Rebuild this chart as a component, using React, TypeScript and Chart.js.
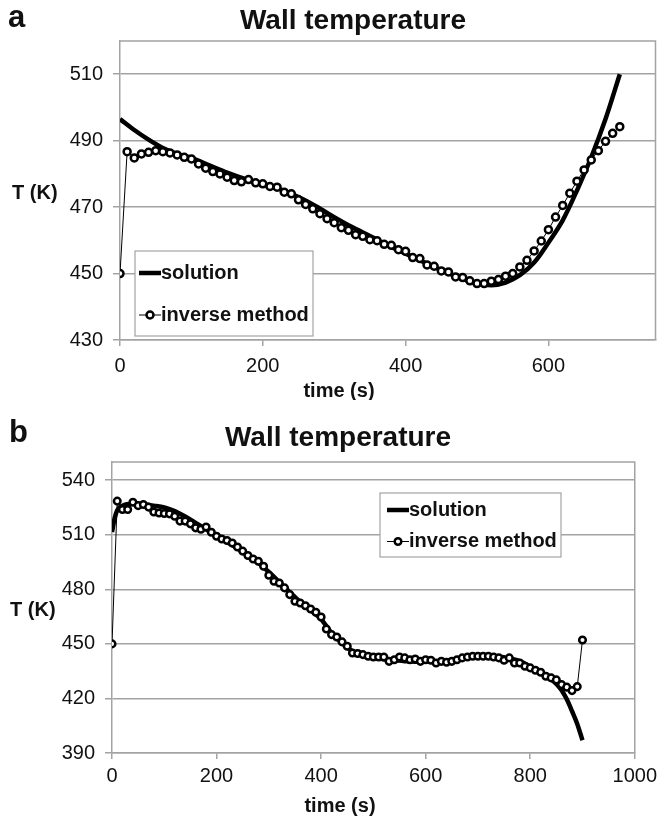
import React, { useEffect, useRef } from "react";
import { Chart, registerables } from "chart.js";

Chart.register(...registerables);

// ---------- Panel a ----------
const A_TIME = [
  0, 10, 20, 30, 40, 50, 60, 70, 80, 90, 100, 110, 120, 130, 140, 150, 160, 170, 180, 190,
  200, 210, 220, 230, 240, 250, 260, 270, 280, 290, 300, 310, 320, 330, 340, 350, 360, 370, 380, 390,
  400, 410, 420, 430, 440, 450, 460, 470, 480, 490, 500, 510, 520, 530, 540, 550, 560, 570, 580, 590,
  600, 610, 620, 630, 640, 650, 660, 670, 680, 690, 700,
];
const A_INVERSE = [
  450, 486.7, 484.8, 486, 486.5, 487, 486.7, 486.3, 485.7, 485, 484.5, 483, 481.7, 480.7, 480, 479, 478, 477.6, 478.3, 477.3,
  477, 476.2, 476, 474.5, 474, 472.2, 470.8, 469.5, 468, 466.5, 465.3, 463.8, 463, 461.7, 461.2, 460.2, 459.9, 458.8, 458.5, 457.2,
  456.7, 454.8, 454.5, 452.6, 452.2, 450.8, 450.5, 449, 448.8, 447.8, 447, 447, 447.7, 448.2, 449.2, 450, 452, 454, 456.8, 459.8,
  463.2, 467, 470.5, 474.2, 477.8, 481.2, 484.2, 487, 489.8, 492.2, 494.2,
];
const A_SOL_TIME = [
  0, 20, 40, 60, 80, 100, 125, 150, 175, 200, 225, 250, 275, 300, 325, 350, 375, 400, 425, 450,
  475, 500, 520, 540, 560, 580, 600, 620, 640, 660, 680, 700,
];
const A_SOLUTION = [
  496.5, 493.2, 490.3, 487.8, 486, 484.8, 482.6, 480.4, 478.5, 477, 475.3, 473, 470.2, 467, 464, 461.3, 458.5, 456, 453.5, 451,
  448.8, 447, 446.5, 447.3, 449.5, 453.3, 459.3, 466, 475, 485, 496.5, 510,
];
const A_X_TICKS = [0, 200, 400, 600];
const A_Y_TICKS = [430, 450, 470, 490, 510];

// ---------- Panel b ----------
const B_TIME = [
  0, 10, 20, 30, 40, 50, 60, 70, 80, 90, 100, 110, 120, 130, 140, 150, 160, 170, 180, 190,
  200, 210, 220, 230, 240, 250, 260, 270, 280, 290, 300, 310, 320, 330, 340, 350, 360, 370, 380, 390,
  400, 410, 420, 430, 440, 450, 460, 470, 480, 490, 500, 510, 520, 530, 540, 550, 560, 570, 580, 590,
  600, 610, 620, 630, 640, 650, 660, 670, 680, 690, 700, 710, 720, 730, 740, 750, 760, 770, 780, 790,
  800, 810, 820, 830, 840, 850, 860, 870, 880, 890, 900,
];
const B_INVERSE = [
  450, 528.5, 523.9, 523.9, 527.9, 526, 526.6, 525.2, 522.5, 522, 521.7, 521.5, 520.2, 517.5, 517.5, 516, 513.8, 513, 514.3, 511.4,
  509.2, 507.7, 506.8, 505.5, 503.3, 501, 498.6, 496.7, 495.4, 492.7, 487.7, 484.4, 483.5, 480.8, 477.1, 473.4, 472.5, 471, 469.2, 467.4,
  464.8, 458.2, 455.1, 453.8, 451.1, 448.7, 445, 444.7, 444.1, 443.2, 442.8, 442.8, 442.8, 440.4, 441.3, 442.8, 442.3, 441.3, 441.7, 440.4,
  441.3, 441, 439.5, 440.4, 439.9, 440.4, 441.3, 442.3, 442.8, 443.2, 443.2, 443.2, 443.2, 442.8, 442.3, 441, 442.3, 439.5, 439.5, 437.7,
  436.8, 435.5, 434.4, 432.2, 431.3, 430.2, 427.6, 426.2, 424.3, 426.5, 452.1,
];
const B_SOL_TIME = [
  0, 5, 10, 20, 40, 60, 80, 100, 120, 140, 160, 180, 200, 220, 240, 260, 280, 300, 320, 340,
  360, 380, 400, 420, 440, 460, 480, 500, 520, 540, 560, 580, 600, 620, 640, 660, 680, 700, 720, 740,
  760, 780, 800, 820, 840, 850, 860, 870, 880, 890, 900,
];
const B_SOLUTION = [
  511.5, 519, 523.5, 526, 527, 526.8, 526, 525, 523, 520, 516.5, 513, 509.5, 506, 502.5, 498.5, 494.5, 489.5, 484, 478.5,
  473, 468.5, 463.5, 456, 450.5, 446, 443.5, 442.3, 441.5, 441, 440.5, 440.2, 440.2, 440.3, 440.8, 441.5, 442.3, 443, 443.3, 443,
  442, 440.5, 437.5, 434, 430.5, 428, 424.5, 419.5, 413, 406, 397,
];
const B_X_TICKS = [0, 200, 400, 600, 800, 1000];
const B_Y_TICKS = [390, 420, 450, 480, 510, 540];

const TITLE = "Wall temperature";
const X_TITLE = "time (s)";
const Y_TITLE = "T (K)";
const SERIES_SOLUTION = "solution";
const SERIES_INVERSE = "inverse method";

const FONT = '"Liberation Sans", Arial, Helvetica, sans-serif';
const GRID = "#a3a3a3";
const INK = "#111111";

const zip = (xs: number[], ys: number[]) => xs.map((x, i) => ({ x, y: ys[i] }));

type Decor = {
  letter: string;
  letterX: number;
  letterY: number;
  titleX: number;
  titleY: number;
  yTitleX: number;
  yTitleY: number;
  xTitleX: number;
  xTitleY: number;
  legend: { x: number; y: number; w: number; h: number; row1: number; row2: number; lx0: number; lx1: number; tx: number };
  markerR: number;
};

function decorPlugin(d: Decor) {
  return {
    id: "decor",
    beforeDatasetsDraw(chart: any) {
      const { ctx, chartArea: ca } = chart;
      ctx.save();
      ctx.strokeStyle = GRID;
      ctx.lineWidth = 1.5;
      ctx.beginPath();
      ctx.moveTo(ca.left, ca.top);
      ctx.lineTo(ca.right, ca.top);
      ctx.lineTo(ca.right, ca.bottom);
      ctx.stroke();
      ctx.restore();
    },
    afterDraw(chart: any) {
      const ctx = chart.ctx as CanvasRenderingContext2D;
      ctx.save();
      ctx.fillStyle = INK;
      ctx.textBaseline = "middle";
      ctx.font = `bold 31px ${FONT}`;
      ctx.textAlign = "left";
      ctx.fillText(d.letter, d.letterX, d.letterY);
      ctx.font = `bold 28px ${FONT}`;
      ctx.textAlign = "center";
      ctx.fillText(TITLE, d.titleX, d.titleY);
      ctx.font = `bold 20px ${FONT}`;
      ctx.textAlign = "left";
      ctx.fillText(Y_TITLE, d.yTitleX, d.yTitleY);
      ctx.textAlign = "center";
      ctx.fillText(X_TITLE, d.xTitleX, d.xTitleY);
      const L = d.legend;
      ctx.fillStyle = "#ffffff";
      ctx.fillRect(L.x, L.y, L.w, L.h);
      ctx.strokeStyle = GRID;
      ctx.lineWidth = 1.2;
      ctx.strokeRect(L.x, L.y, L.w, L.h);
      ctx.strokeStyle = "#000";
      ctx.lineWidth = 4.5;
      ctx.beginPath();
      ctx.moveTo(L.lx0, L.row1);
      ctx.lineTo(L.lx1, L.row1);
      ctx.stroke();
      ctx.lineWidth = 1;
      ctx.beginPath();
      ctx.moveTo(L.lx0, L.row2);
      ctx.lineTo(L.lx1, L.row2);
      ctx.stroke();
      ctx.beginPath();
      ctx.arc((L.lx0 + L.lx1) / 2, L.row2, d.markerR, 0, Math.PI * 2);
      ctx.fillStyle = "#fff";
      ctx.fill();
      ctx.lineWidth = 2.5;
      ctx.stroke();
      ctx.fillStyle = INK;
      ctx.font = `bold 20px ${FONT}`;
      ctx.textAlign = "left";
      ctx.fillText(SERIES_SOLUTION, L.tx, L.row1);
      ctx.fillText(SERIES_INVERSE, L.tx, L.row2);
      ctx.restore();
    },
  };
}

type PanelCfg = {
  width: number;
  height: number;
  solT: number[];
  sol: number[];
  invT: number[];
  inv: number[];
  xMax: number;
  yMin: number;
  yMax: number;
  xTicks: number[];
  yTicks: number[];
  plotLeft: number;
  plotRight: number;
  plotTop: number;
  plotBottom: number;
  xLabelPad: number;
  markerR: number;
  decor: Decor;
};

function Panel({ cfg }: { cfg: PanelCfg }) {
  const ref = useRef<HTMLCanvasElement | null>(null);
  useEffect(() => {
    if (!ref.current) return;
    const tickFont = { family: FONT, size: 20 };
    const chart = new Chart(ref.current, {
      type: "line",
      data: {
        datasets: [
          {
            label: SERIES_INVERSE,
            data: zip(cfg.invT, cfg.inv),
            borderColor: "#000",
            borderWidth: 1,
            pointRadius: cfg.markerR,
            pointBorderWidth: 2.5,
            pointBackgroundColor: "#fff",
            pointBorderColor: "#000",
            tension: 0,
            order: 0,
          },
          {
            label: SERIES_SOLUTION,
            data: zip(cfg.solT, cfg.sol),
            borderColor: "#000",
            borderWidth: 4.5,
            pointRadius: 0,
            cubicInterpolationMode: "monotone",
            order: 1,
          },
        ],
      },
      options: {
        responsive: false,
        animation: false,
        devicePixelRatio: 1,
        layout: {
          padding: { left: 0, right: cfg.width - cfg.plotRight, top: cfg.plotTop, bottom: 0 },
        },
        plugins: {
          legend: { display: false },
          tooltip: { enabled: false },
          title: { display: false },
        },
        scales: {
          x: {
            type: "linear",
            min: 0,
            max: cfg.xMax,
            afterBuildTicks: (s: any) => {
              s.ticks = cfg.xTicks.map((v) => ({ value: v }));
            },
            afterFit: (s: any) => {
              s.height = cfg.height - cfg.plotBottom;
            },
            ticks: {
              font: tickFont,
              color: INK,
              padding: cfg.xLabelPad,
              maxRotation: 0,
              autoSkip: false,
              callback: (v: any) => String(v),
            },
            grid: { drawOnChartArea: false, drawTicks: true, tickLength: 6, color: GRID, lineWidth: 1.5 },
            border: { color: GRID, width: 1.5 },
          },
          y: {
            type: "linear",
            min: cfg.yMin,
            max: cfg.yMax,
            afterBuildTicks: (s: any) => {
              s.ticks = cfg.yTicks.map((v) => ({ value: v }));
            },
            afterFit: (s: any) => {
              s.width = cfg.plotLeft;
            },
            ticks: { font: tickFont, color: INK, padding: 10, autoSkip: false, callback: (v: any) => String(v) },
            grid: { drawTicks: true, tickLength: 7, color: GRID, lineWidth: 1.5 },
            border: { color: GRID, width: 1.5 },
          },
        },
      },
      plugins: [decorPlugin(cfg.decor)],
    } as any);
    return () => chart.destroy();
  }, [cfg]);
  return <canvas ref={ref} width={cfg.width} height={cfg.height} style={{ display: "block" }} />;
}

const PANEL_A: PanelCfg = {
  width: 662,
  height: 400,
  solT: A_SOL_TIME,
  sol: A_SOLUTION,
  invT: A_TIME,
  inv: A_INVERSE,
  xMax: 750,
  yMin: 430,
  yMax: 520,
  xTicks: A_X_TICKS,
  yTicks: A_Y_TICKS,
  plotLeft: 120,
  plotRight: 659,
  plotTop: 41,
  plotBottom: 340,
  xLabelPad: 8,
  markerR: 3.5,
  decor: {
    letter: "a",
    letterX: 8,
    letterY: 18,
    titleX: 353,
    titleY: 21,
    yTitleX: 12,
    yTitleY: 193,
    xTitleX: 339,
    xTitleY: 391,
    legend: { x: 135, y: 251, w: 178, h: 85, row1: 273, row2: 315, lx0: 139, lx1: 161, tx: 161 },
    markerR: 3.5,
  },
};

const PANEL_B: PanelCfg = {
  width: 662,
  height: 421,
  solT: B_SOL_TIME,
  sol: B_SOLUTION,
  invT: B_TIME,
  inv: B_INVERSE,
  xMax: 1000,
  yMin: 390,
  yMax: 550,
  xTicks: B_X_TICKS,
  yTicks: B_Y_TICKS,
  plotLeft: 112,
  plotRight: 639,
  plotTop: 62,
  plotBottom: 353,
  xLabelPad: 5,
  markerR: 3.3,
  decor: {
    letter: "b",
    letterX: 9,
    letterY: 33,
    titleX: 338,
    titleY: 38,
    yTitleX: 10,
    yTitleY: 210,
    xTitleX: 340,
    xTitleY: 406,
    legend: { x: 380, y: 93, w: 181, h: 64, row1: 110, row2: 141.5, lx0: 387, lx1: 409, tx: 409 },
    markerR: 3.3,
  },
};

export default function App() {
  return (
    <div style={{ position: "absolute", left: 0, top: 0, width: 662, height: 821, background: "#fff" }}>
      <Panel cfg={PANEL_A} />
      <Panel cfg={PANEL_B} />
    </div>
  );
}
